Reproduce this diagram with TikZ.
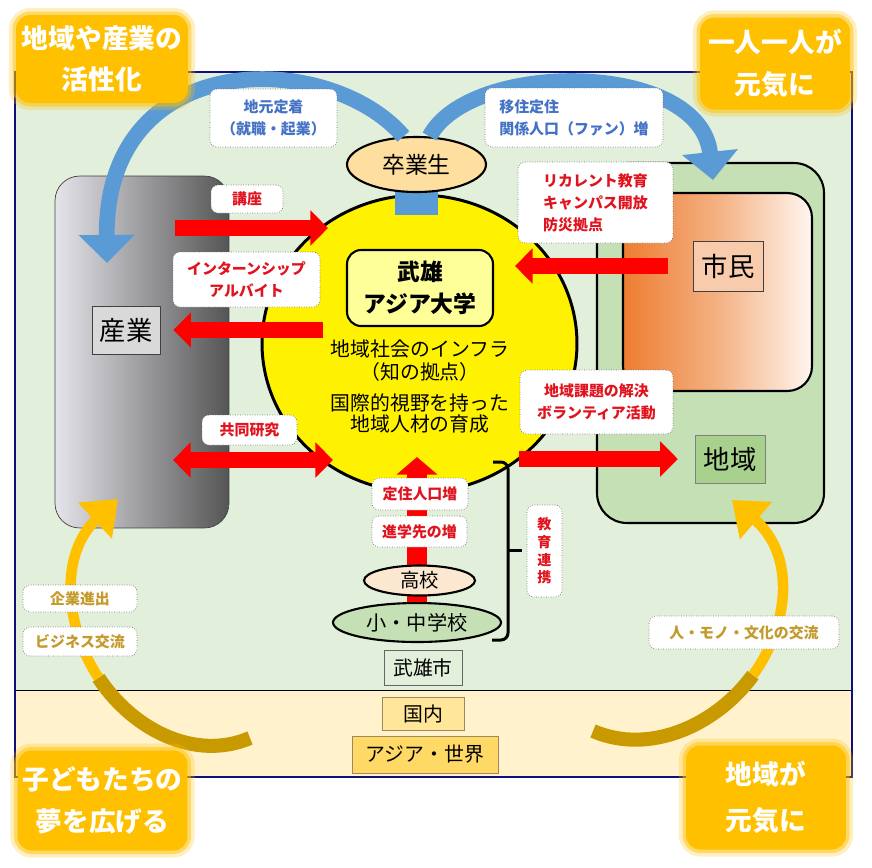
\documentclass[tikz,border=0pt]{standalone}
\usepackage{fontspec}
\setmainfont{Noto Sans CJK JP}
\usetikzlibrary{arrows.meta,shapes.geometric}

\definecolor{bggreen}{HTML}{E2EFDA}
\definecolor{bgcream}{HTML}{FFF2CC}
\definecolor{framenavy}{HTML}{10107A}
\definecolor{cornergold}{HTML}{FFC000}
\definecolor{darkgold}{HTML}{C99A00}
\definecolor{skyblue}{HTML}{5B9BD5}
\definecolor{labelred}{HTML}{E0141E}
\definecolor{labelblue}{HTML}{4472C4}
\definecolor{labelgold}{HTML}{C49A2C}
\definecolor{sangyolight}{HTML}{E4E4EA}
\definecolor{sangyodark}{HTML}{555555}
\definecolor{shiminorange}{HTML}{ED7D31}
\definecolor{shiminpeach}{HTML}{F4B183}
\definecolor{shiminwhite}{HTML}{FFF6F0}
\definecolor{shiminlabel}{HTML}{F8CBAD}
\definecolor{chiikigreen}{HTML}{C5E0B4}
\definecolor{chiikilabel}{HTML}{A9D18E}
\definecolor{daigakuyellow}{HTML}{FFFF99}
\definecolor{gradorange}{HTML}{FFDF9F}
\definecolor{kokopeach}{HTML}{FCE8D0}
\definecolor{kokunaiyellow}{HTML}{FFE699}
\definecolor{sekaiyellow}{HTML}{FFD966}
\definecolor{boxbrown}{HTML}{9C8A5C}

\tikzset{redtip/.tip={Triangle[length=10pt,width=19.5pt]}}

\begin{document}
    \begin{tikzpicture}[x=0.02cm,y=-0.02cm,
        tag/.style={draw=black!55,densely dotted,fill=white,rounded corners=4pt,inner sep=0pt,align=center,font=\bfseries\fontsize{8.5}{12.5}\selectfont},
        redtag/.style={tag,text=labelred},
        bluetag/.style={tag,text=labelblue},
        goldtag/.style={tag,text=labelgold},
        redarrow/.style={draw=red,line width=9.6pt,-redtip},
        bluearrow/.style={draw=skyblue,line width=9pt,-{Triangle[length=16pt,width=31pt]}},
        goldarrow/.style={draw=cornergold,line width=6pt,-{Triangle[length=18pt,width=27pt]}},
        corner/.style={fill=cornergold,rounded corners=8pt,text=white,align=center,inner sep=0pt,
            font=\bfseries\fontsize{15.2}{23}\selectfont,
            preaction={draw=cornergold,line width=8pt,opacity=0.25},
            preaction={draw=cornergold,line width=4pt,opacity=0.45}},
        namebox/.style={draw=black!75,inner sep=0pt,font=\fontsize{15}{18}\selectfont},
        plainbox/.style={inner sep=0pt,font=\fontsize{11.3}{13}\selectfont}]
        \useasboundingbox (0,0) rectangle (872,867);
        \fill[white] (0,0) rectangle (872,867);
        \fill[bggreen] (15,72) rectangle (852,690);
        \fill[bgcream] (15,690) rectangle (852,777);
        \draw (15,690) -- (852,690);
        \draw[framenavy,line width=1.2pt] (15,72) rectangle (852,777);

        \node[draw=black!75,rounded corners=14pt,left color=sangyolight,right color=sangyodark,minimum width=3.48cm,minimum height=7.04cm] (sangyo-area) at (142,352) {};
        \node[namebox,fill=black!15,minimum width=1.36cm,minimum height=0.96cm] (sangyo) at (126,330) {産業};
        \node[draw,line width=1.2pt,fill=chiikigreen,rounded corners=17pt,minimum width=4.54cm,minimum height=7.2cm] (chiiki-area) at (710.5,343) {};
        \node[draw,line width=1.2pt,rounded corners=14pt,left color=shiminorange,right color=shiminwhite,middle color=shiminpeach,minimum width=3.78cm,minimum height=3.96cm] (shimin-area) at (717.5,292) {};
        \node[namebox,fill=shiminlabel,minimum width=1.4cm,minimum height=1cm] (shimin) at (728,266) {市民};
        \node[namebox,draw=black!50,fill=chiikilabel,minimum width=1.4cm,minimum height=0.96cm] (chiiki) at (730,459) {地域};

        \node[ellipse,draw,line width=1.7pt,fill=yellow,minimum width=6.3cm,minimum height=5.94cm,inner sep=0pt] (univ) at (419.5,343.5) {};
        \coordinate (grad-base) at (416.5,180);
        \coordinate (univ-top) at (416.5,215);
        \draw[skyblue,line width=24.4pt] (grad-base) -- (univ-top);
        \node[ellipse,draw,line width=1.2pt,fill=gradorange,minimum width=2.78cm,minimum height=1.1cm,inner sep=0pt,font=\fontsize{13}{15}\selectfont] (grad) at (416.5,164.5) {卒業生};

        \coordinate (sangyo-top) at (107,263);
        \coordinate (shimin-top) at (713,180);
        \draw[bluearrow] (grad.115) .. controls (330,50) and (105,45) .. (sangyo-top);
        \draw[bluearrow] (grad.65) .. controls (470,60) and (700,60) .. (shimin-top);

        \coordinate (yume-tail) at (250,738);
        \coordinate (yume-mid) at (98.5,677.75);
        \coordinate (sangyo-bottom) at (118,499);
        \draw[darkgold,line width=8pt] (yume-tail) .. controls (195,761.5) and (132.5,729.5) .. (yume-mid);
        \draw[goldarrow] (yume-mid) .. controls (64.5,626) and (59,554.5) .. (sangyo-bottom);
        \coordinate (genki-tail) at (593,731);
        \coordinate (genki-mid) at (752.9,675.1);
        \coordinate (chiiki-bottom) at (732,500);
        \draw[darkgold,line width=8pt] (genki-tail) .. controls (649.5,755.5) and (716.25,725.25) .. (genki-mid);
        \draw[goldarrow] (genki-mid) .. controls (789.5,625) and (796,555) .. (chiiki-bottom);

        \node[ellipse,draw,line width=1.2pt,fill=chiikigreen,minimum width=3.36cm,minimum height=0.78cm,inner sep=0pt,font=\fontsize{11.5}{13}\selectfont] (shochu) at (417,622.5) {小・中学校};
        \coordinate (koza-out) at (175,228);
        \coordinate (koza-in) at (328,228);
        \coordinate (intern-out) at (323,330);
        \coordinate (kyodo-l) at (173,460);
        \coordinate (kyodo-r) at (333,460);
        \coordinate (recurrent-in) at (515,266);
        \coordinate (kadai-out) at (519,459);
        \coordinate (teiju-in) at (417,457);
        \draw[redarrow] (koza-out) -- (koza-in);
        \draw[redarrow,shorten >=7.4pt] (intern-out) -- (sangyo.east);
        \draw[redarrow,redtip-redtip] (kyodo-l) -- (kyodo-r);
        \draw[redarrow,shorten <=14pt] (shimin.west) -- (recurrent-in);
        \draw[redarrow,shorten >=9.6pt] (kadai-out) -- (chiiki.west);
        \draw[redarrow,line width=11.3pt,-{Triangle[length=10pt,width=22.7pt]}] (shochu.north) -- (teiju-in);

        \node[draw,line width=1.2pt,rounded corners=8pt,fill=daigakuyellow,minimum width=2.92cm,minimum height=1.52cm,align=center,font=\bfseries\fontsize{13}{18}\selectfont] (daigaku) at (420,288) {武雄\\アジア大学};
        \node[align=center,font=\fontsize{11.3}{13}\selectfont] (infra) at (420,360.5) {地域社会のインフラ\\（知の拠点）};
        \node[align=center,font=\fontsize{11.3}{12}\selectfont] (ikusei) at (420,413.5) {国際的視野を持った\\地域人材の育成};

        \node[redtag,minimum width=1.44cm,minimum height=0.56cm] (koza) at (247,199) {講座};
        \node[redtag,minimum width=2.94cm,minimum height=1.1cm] (intern) at (246.5,279.5) {インターンシップ\\アルバイト};
        \node[redtag,minimum width=1.9cm,minimum height=0.6cm] (kyodo) at (249.5,430) {共同研究};
        \node[redtag,align=left,minimum width=3.1cm,minimum height=1.62cm] (recurrent) at (595.5,202.5) {リカレント教育\\キャンパス開放\\防災拠点};
        \node[redtag,minimum width=3.06cm,minimum height=1.28cm] (kadai) at (596.5,402) {地域課題の解決\\ボランティア活動};
        \node[redtag,minimum width=1.92cm,minimum height=0.64cm] (teiju) at (420,494) {定住人口増};
        \node[redtag,minimum width=1.9cm,minimum height=0.62cm] (shingaku) at (419.5,531.5) {進学先の増};
        \node[redtag,minimum width=0.7cm,minimum height=1.84cm,font=\bfseries\fontsize{8}{10}\selectfont] (renkei) at (544.5,551) {教\\育\\連\\携};
        \node[bluetag,minimum width=2.54cm,minimum height=1.16cm] (jimoto) at (273.5,118) {地元定着\\（就職・起業）};
        \node[bluetag,align=left,minimum width=3.56cm,minimum height=1.18cm] (iju) at (574,117.5) {移住定住\\関係人口（ファン）増};
        \node[goldtag,minimum width=2.28cm,minimum height=0.54cm] (kigyo) at (80,598.5) {企業進出};
        \node[goldtag,minimum width=2.28cm,minimum height=0.58cm] (business) at (80,641.5) {ビジネス交流};
        \node[goldtag,minimum width=3.8cm,minimum height=0.66cm] (koryu) at (744,632.5) {人・モノ・文化の交流};

        \node[ellipse,draw,line width=1.2pt,fill=kokopeach,minimum width=2.22cm,minimum height=0.6cm,inner sep=0pt,font=\fontsize{11}{13}\selectfont] (koko) at (419.5,580.5) {高校};
        \draw[line width=1.7pt,rounded corners=4pt] (493,462) -- (508,462) -- (508,640) -- (492,640);
        \draw[line width=1.7pt] (508,550) -- (522,550);
        \node[plainbox,draw=black!60,fill=bggreen,minimum width=1.56cm,minimum height=0.7cm] (takeo) at (423,667.5) {武雄市};
        \node[plainbox,draw=boxbrown,fill=kokunaiyellow,minimum width=1.64cm,minimum height=0.66cm] (kokunai) at (423,713.5) {国内};
        \node[plainbox,draw=boxbrown,fill=sekaiyellow,minimum width=2.92cm,minimum height=0.74cm] (sekai) at (425,754.5) {アジア・世界};

        \node[corner,minimum width=3.44cm,minimum height=1.76cm] (kasseika) at (102,59) {地域や産業の\\活性化};
        \node[corner,minimum width=3cm,minimum height=1.84cm,font=\bfseries\fontsize{15.2}{24}\selectfont] (hitori) at (775,63.5) {一人一人が\\元気に};
        \node[corner,minimum width=3.4cm,minimum height=2cm,font=\bfseries\fontsize{15.2}{24.4}\selectfont] (yume) at (102.5,800.5) {子どもたちの\\夢を広げる};
        \node[corner,minimum width=3.2cm,minimum height=2.08cm,font=\bfseries\fontsize{15.2}{26}\selectfont] (genki) at (766,797.5) {地域が\\元気に};
    \end{tikzpicture}
\end{document}
